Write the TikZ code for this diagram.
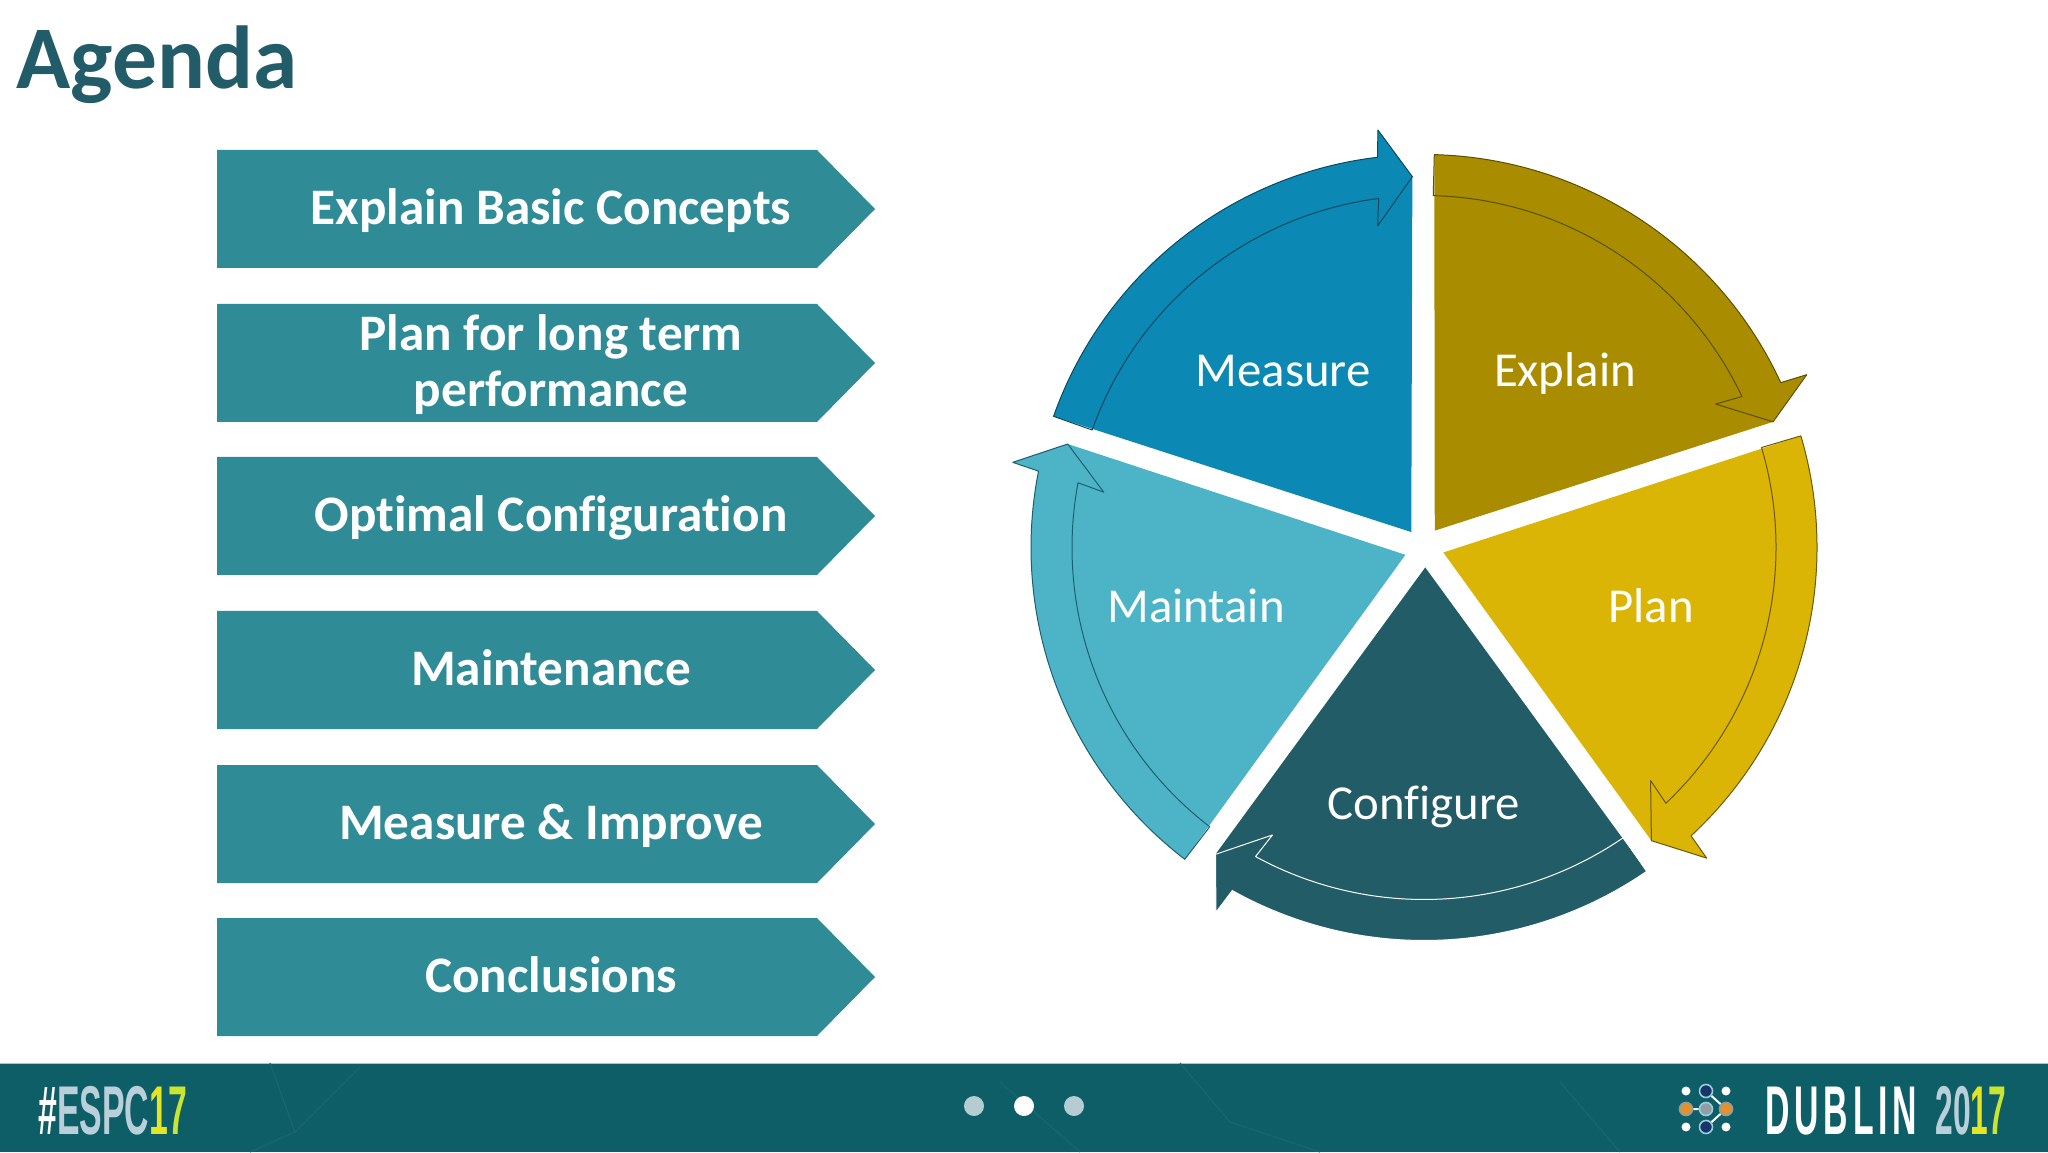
\documentclass[tikz,border=0pt]{standalone}
\usepackage{fontspec}
\setmainfont[Ligatures=NoCommon]{Carlito}
\newfontfamily\bannerfont[FakeStretch=0.49]{Liberation Sans}
\newfontfamily\yearfont[FakeStretch=0.46]{Liberation Sans}
\newfontfamily\cityfont[FakeStretch=0.49,LetterSpace=7]{Liberation Sans}
\definecolor{titlecol}{HTML}{215C68}
\definecolor{boxcol}{HTML}{2F8C97}
\definecolor{bandcol}{HTML}{0E5E67}
\definecolor{bandline}{HTML}{19666F}
\definecolor{explaincol}{HTML}{A98C00}
\definecolor{explainedge}{HTML}{5E4E00}
\definecolor{plancol}{HTML}{DAB505}
\definecolor{planedge}{HTML}{6B5800}
\definecolor{configcol}{HTML}{215C67}
\definecolor{maintaincol}{HTML}{4CB4C6}
\definecolor{maintainedge}{HTML}{1D5F70}
\definecolor{measurecol}{HTML}{0B88B4}
\definecolor{measureedge}{HTML}{0A4A60}
\definecolor{greytext}{HTML}{B9D0DA}
\definecolor{yellowone}{HTML}{E4E520}
\definecolor{yellowtwo}{HTML}{C9E52F}
\definecolor{dotcol}{HTML}{B5CDD2}
\definecolor{ringcol}{HTML}{9CCBDC}
\definecolor{navycol}{HTML}{16356B}
\definecolor{orangecol}{HTML}{E2912F}
\definecolor{midcol}{HTML}{8E9EA3}
% #1 fill, #2 edge, #3 rotation
\newcommand{\wheelsector}[3]{
	\fill[#1,shift={(1424,604.5)},rotate=#3] (57.5:20) -- (88.5:393) arc[start angle=88.5,end angle=24.8,radius=393] -- (24.3:420) -- (19.8:371) -- cycle;
	\draw[#2,line width=0.5pt,line join=round,shift={(1424,604.5)},rotate=#3] (88.5:352) -- (88.5:393) arc[start angle=88.5,end angle=24.8,radius=393] -- (24.3:420) -- (19.8:371) -- (26.2:325) -- (25.4:352) arc[start angle=25.4,end angle=88.5,radius=352] -- cycle;
}
% #1 y of the upper edge
\newcommand{\agendashape}[1]{
	\fill[boxcol] (217,#1) -- (817,#1) -- (875,#1-59) -- (817,#1-118) -- (217,#1-118) -- cycle;
}
\tikzset{
	agendatext/.style={text=white,font=\bfseries\fontsize{25.6}{27.6}\selectfont,align=center,inner sep=0},
	wheeltext/.style={text=white,font=\fontsize{24.4}{28}\selectfont,anchor=base,inner sep=0},
	bannertext/.style={font=\bannerfont\bfseries\fontsize{34.5}{36}\selectfont,anchor=base west,inner sep=0},
	yeartext/.style={font=\yearfont\bfseries\fontsize{34.5}{36}\selectfont,anchor=base west,inner sep=0},
	citytext/.style={font=\cityfont\bfseries\fontsize{34.5}{36}\selectfont,anchor=base west,inner sep=0},
	logodot/.style={circle,fill=white,inner sep=0,minimum size=4.5pt},
	logoring/.style={circle,draw=ringcol,line width=0.8pt,inner sep=0,minimum size=6.5pt}
}
\begin{document}
\begin{tikzpicture}[x=0.5pt,y=0.5pt]
	\useasboundingbox (0,0) rectangle (2048,1152);
	\fill[white] (0,0) rectangle (2048,1152);
	\node[text=titlecol,font=\bfseries\fontsize{44.7}{48}\selectfont,anchor=base west,inner sep=0] (title) at (16,1063) {Agenda};
	% agenda arrows
	\agendashape{1002}
	\agendashape{848}
	\agendashape{695}
	\agendashape{541}
	\agendashape{387}
	\agendashape{234}
	\node[agendatext,anchor=base] (concepts) at (551,927) {Explain Basic Concepts};
	\node[agendatext] (longterm) at (551,787.5) {Plan for long term\\performance};
	\node[agendatext,anchor=base] (optimal) at (551,620) {Optimal Configuration};
	\node[agendatext,anchor=base] (maintenance) at (551,466.5) {Maintenance};
	\node[agendatext,anchor=base] (improve) at (551,313) {Measure \& Improve};
	\node[agendatext,anchor=base] (conclusions) at (551,159.5) {Conclusions};
	% wheel
	\wheelsector{explaincol}{explainedge}{0}
	\wheelsector{plancol}{planedge}{-72}
	\wheelsector{configcol}{white}{-144}
	\wheelsector{maintaincol}{maintainedge}{-216}
	\wheelsector{measurecol}{measureedge}{-288}
	\node[wheeltext] (explain) at (1565,765) {Explain};
	\node[wheeltext] (plan) at (1651,530) {Plan};
	\node[wheeltext] (configure) at (1424,333) {Configure};
	\node[wheeltext] (maintain) at (1196,530) {Maintain};
	\node[wheeltext] (measure) at (1283,765) {Measure};
	% footer band
	\fill[bandcol] (0,0) rectangle (2048,89);
	\draw[ringcol,line width=0.5pt] (0,89) -- (2048,89);
	\draw[bandline,line width=0.6pt] (270,89) -- (295,20) -- (360,85) (295,20) -- (250,0) (1000,70) -- (1080,0) (1180,89) -- (1230,30) -- (1320,0) (1560,70) -- (1620,0);
	\node[circle,fill=dotcol,minimum size=10pt,inner sep=0] (dotleft) at (974,46) {};
	\node[circle,fill=white,minimum size=10pt,inner sep=0] (dotmid) at (1024,46) {};
	\node[circle,fill=dotcol,minimum size=10pt,inner sep=0] (dotright) at (1074,46) {};
	\node[bannertext] (espc) at (38,18) {\textcolor{white}{\#}\textcolor{greytext}{ESPC}\textcolor{yellowone}{1}\textcolor{yellowtwo}{7}};
	\node[citytext,text=white] (dublin) at (1765,18) {DUBLIN};
	\node[yeartext] (year) at (1935,18) {\textcolor{greytext}{20}\textcolor{yellowone}{1}\textcolor{yellowtwo}{7}};
	% logo
	\node[logodot] (logoa) at (1686,61) {};
	\node[logodot] (logob) at (1726,61) {};
	\node[logodot] (logoc) at (1686,25) {};
	\node[logodot] (logod) at (1726,25) {};
	\node[logoring,fill=navycol] (logotop) at (1706,61) {};
	\node[logoring,fill=navycol] (logobot) at (1706,25) {};
	\node[logoring,fill=orangecol,draw=midcol] (logoleft) at (1686,43) {};
	\node[logoring,fill=midcol] (logomid) at (1706,43) {};
	\node[logoring,fill=orangecol,draw=midcol] (logoright) at (1726,43) {};
	\draw[white,line width=1pt] (logoleft) -- (logomid) (logotop) -- (logoright) -- (logobot);
\end{tikzpicture}
\end{document}
